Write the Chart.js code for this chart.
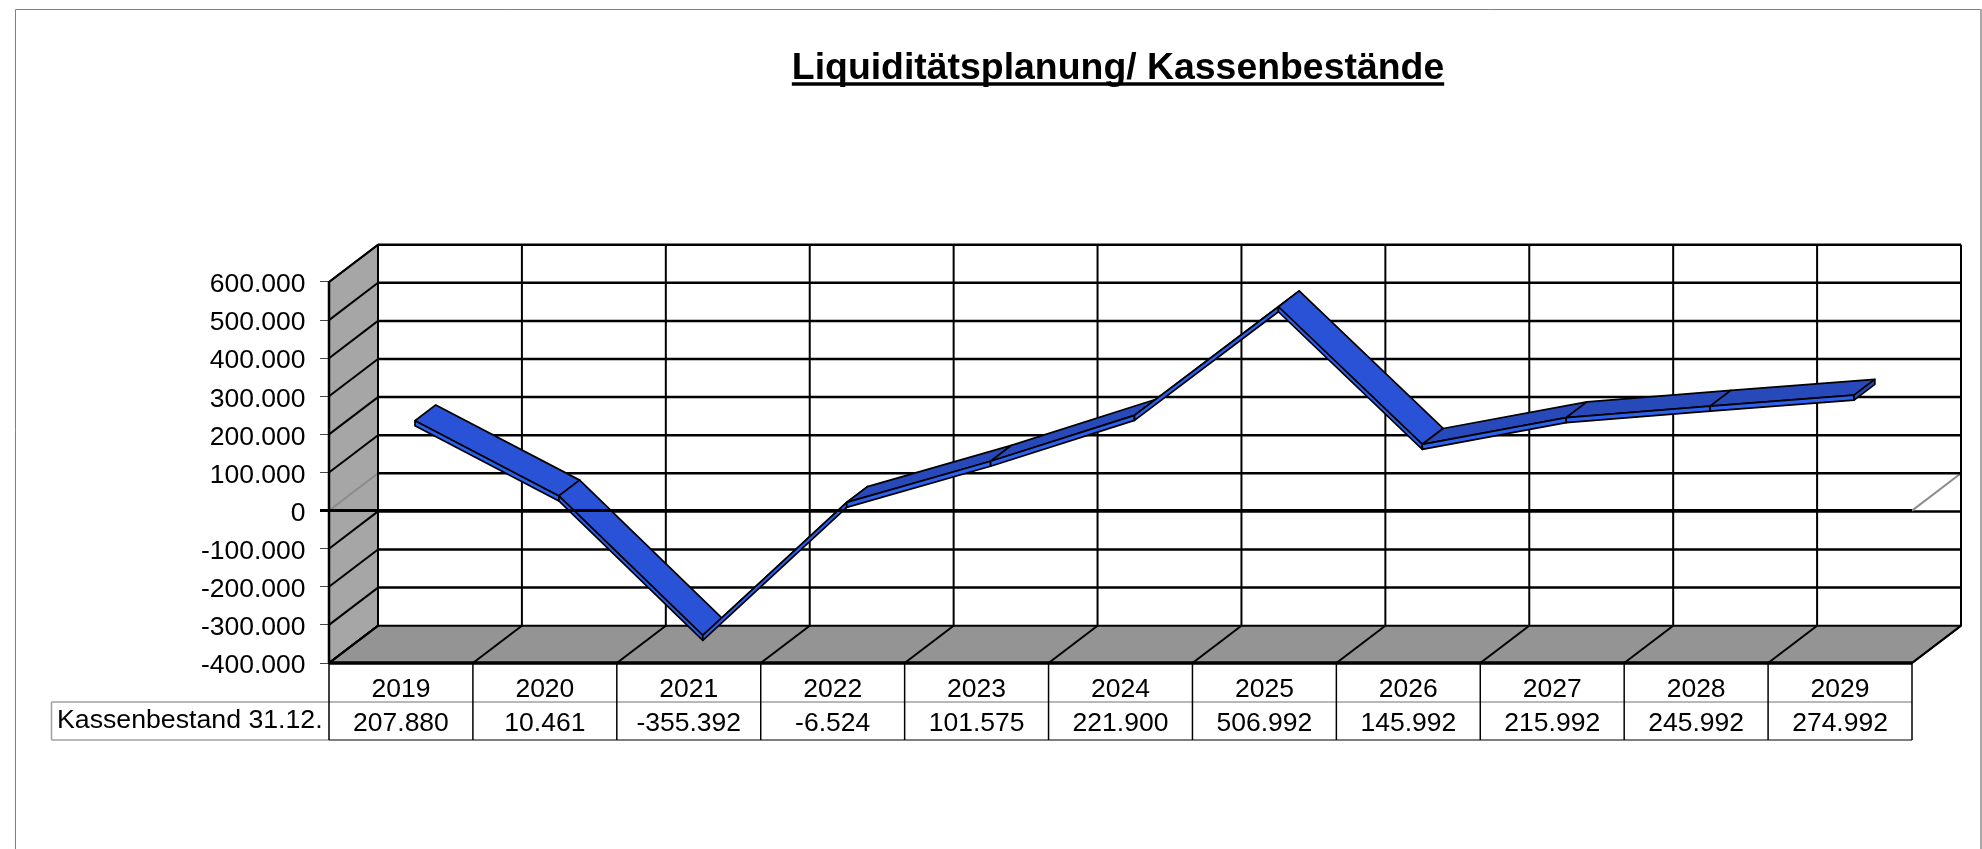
<!DOCTYPE html>
<html>
<head>
<meta charset="utf-8">
<title>Liquiditätsplanung</title>
<style>
    html, body { margin: 0; padding: 0; background: #fff; }
    canvas { display: block; }
</style>
<script src="https://cdn.jsdelivr.net/npm/chart.js@4"></script>
</head>
<body>
<canvas id="myChart" width="1982" height="849"></canvas>
<script>
const years = ['2019', '2020', '2021', '2022', '2023', '2024', '2025', '2026', '2027', '2028', '2029'];
const kassenbestand = [207880, 10461, -355392, -6524, 101575, 221900, 506992, 145992, 215992, 245992, 274992];
const seriesName = 'Kassenbestand 31.12.';
const chartTitle = 'Liquiditätsplanung/ Kassenbestände';

// 3d look of the old spreadsheet chart
const depthX = 49;
const depthY = -37.3;
const ribbonFront = 0.286;
const ribbonBack = 0.71;
const ribbonThick = 5;
const titleSize = 37.4;
const fontName = '"Liberation Sans", Arial, sans-serif';

function formatNumber(value) {
    const text = String(Math.abs(value)).replace(/\B(?=(\d{3})+$)/g, '.');
    return value < 0 ? '-' + text : text;
}

function line(ctx, x1, y1, x2, y2, color, width) {
    ctx.strokeStyle = color;
    ctx.lineWidth = width;
    ctx.beginPath();
    ctx.moveTo(x1, y1);
    ctx.lineTo(x2, y2);
    ctx.stroke();
}

function polygon(ctx, points, fill, stroke, width) {
    ctx.beginPath();
    points.forEach((p, i) => i ? ctx.lineTo(p[0], p[1]) : ctx.moveTo(p[0], p[1]));
    ctx.closePath();
    ctx.fillStyle = fill;
    ctx.fill();
    ctx.strokeStyle = stroke;
    ctx.lineWidth = width;
    ctx.lineJoin = 'round';
    ctx.stroke();
}

const walls3d = {
    id: 'walls3d',
    beforeDraw(chart) {
        // title sits a little left of the plot centre in the reference
        chart.titleBlock.left -= 5;
    },
    beforeDatasetsDraw(chart) {
        const ctx = chart.ctx;
        const area = chart.chartArea;
        const x = chart.scales.x;
        const y = chart.scales.y;
        const step = area.width / years.length;
        const backLeft = area.left + depthX;
        const backRight = area.right + depthX;

        ctx.save();
        // page frame
        ctx.strokeStyle = '#808080';
        ctx.lineWidth = 1;
        ctx.beginPath();
        ctx.moveTo(15.5, 849);
        ctx.lineTo(15.5, 9.5);
        ctx.lineTo(1981, 9.5);
        ctx.stroke();
        line(ctx, 1981, 9, 1981, 849, '#a8a8a8', 2);

        // left wall and floor
        polygon(ctx, [[area.left, area.top], [backLeft, area.top + depthY], [backLeft, area.bottom + depthY], [area.left, area.bottom]], '#a6a6a6', '#000', 2);
        polygon(ctx, [[area.left, area.bottom], [backLeft, area.bottom + depthY], [backRight, area.bottom + depthY], [area.right, area.bottom]], '#949494', '#000', 2);

        // back wall grid
        y.ticks.forEach(t => {
            const py = y.getPixelForValue(t.value);
            if (t.value !== 0) {
                line(ctx, area.left, py, backLeft, py + depthY, '#000', 2);
            } else {
                line(ctx, area.left, py, backLeft, py + depthY, '#8c8c8c', 2);
                line(ctx, area.right, py, backRight, py + depthY, '#8c8c8c', 2);
            }
            if (t.value > y.min) {
                line(ctx, backLeft, py + depthY, backRight, py + depthY, '#000', 2.5);
            }
        });
        for (let i = 0; i <= years.length; i++) {
            const px = x.getPixelForValue(i) - step / 2;
            line(ctx, px + depthX, area.top + depthY, px + depthX, area.bottom + depthY, '#000', 2);
            line(ctx, px, area.bottom, px + depthX, area.bottom + depthY, '#000', 2);
        }
        line(ctx, area.left, area.top, area.left, area.bottom, '#000', 2.5);
        ctx.restore();
    },
    afterDatasetsDraw(chart) {
        const ctx = chart.ctx;
        const area = chart.chartArea;
        const points = chart.getDatasetMeta(0).data;
        const x = chart.scales.x;
        const y = chart.scales.y;
        const step = area.width / years.length;
        const fx = ribbonFront * depthX, fy = ribbonFront * depthY;
        const bx = ribbonBack * depthX, by = ribbonBack * depthY;

        ctx.save();
        // ribbon, segment by segment. front strip last so it stays visible on steep rises
        for (let i = 0; i < points.length - 1; i++) {
            const a = points[i];
            const b = points[i + 1];
            const topColor = b.y > a.y ? '#2a52d6' : '#2849b9';
            polygon(ctx, [[a.x + fx, a.y + fy], [b.x + fx, b.y + fy], [b.x + bx, b.y + by], [a.x + bx, a.y + by]], topColor, '#000', 1.7);
            polygon(ctx, [[a.x + fx, a.y + fy + ribbonThick], [b.x + fx, b.y + fy + ribbonThick], [b.x + fx, b.y + fy], [a.x + fx, a.y + fy]], '#2d62f0', '#000', 1.7);
        }
        // end cap on the last year
        const last = points[points.length - 1];
        polygon(ctx, [[last.x + fx, last.y + fy], [last.x + bx, last.y + by], [last.x + bx, last.y + by + ribbonThick], [last.x + fx, last.y + fy + ribbonThick]], '#2849b9', '#000', 1.7);

        // zero line and floor edge sit in front of the ribbon
        line(ctx, area.left - 9, y.getPixelForValue(0), area.right, y.getPixelForValue(0), '#000', 3);
        line(ctx, area.left, area.bottom, area.right, area.bottom, '#000', 3.5);

        // data table under the chart
        const rowY = area.bottom + 39;
        const endY = area.bottom + 77;
        const tableLeft = 51.5;
        line(ctx, tableLeft, rowY, area.right, rowY, '#a0a0a0', 1.5);
        line(ctx, tableLeft, endY, area.left, endY, '#a0a0a0', 1.5);
        line(ctx, area.left, endY, area.right, endY, '#555', 1.5);
        line(ctx, tableLeft, rowY, tableLeft, endY, '#a0a0a0', 1.5);
        for (let i = 0; i <= years.length; i++) {
            const px = x.getPixelForValue(i) - step / 2;
            line(ctx, px, area.bottom, px, endY, '#000', 1.5);
        }
        ctx.fillStyle = '#000';
        ctx.font = '26.7px ' + fontName;
        ctx.textAlign = 'left';
        ctx.textBaseline = 'middle';
        ctx.fillText(seriesName, 57, rowY + 19);

        // title underline
        const title = chart.titleBlock;
        ctx.font = 'bold ' + titleSize + 'px ' + fontName;
        const w = ctx.measureText(chartTitle).width;
        const cx = (title.left + title.right) / 2;
        line(ctx, cx - w / 2, 84, cx + w / 2, 84, '#000', 3.5);
        ctx.restore();
    }
};

const data = {
    labels: years.map((year, i) => [year, formatNumber(kassenbestand[i])]),
    datasets: [{
        label: seriesName,
        data: kassenbestand,
        showLine: false,
        pointRadius: 0
    }]
};

const config = {
    type: 'line',
    data,
    options: {
        responsive: false,
        animation: false,
        layout: { padding: { left: 0, right: 70, top: 0, bottom: 0 } },
        plugins: {
            legend: { display: false },
            tooltip: { enabled: false },
            title: {
                display: true,
                text: chartTitle,
                fullSize: false,
                color: '#000',
                font: { family: fontName, size: titleSize, weight: 'bold', lineHeight: 1.2 },
                padding: { top: 46, bottom: 191.1 }
            }
        },
        scales: {
            x: {
                offset: true,
                border: { display: false },
                grid: { display: false },
                afterFit(scale) { scale.height = 186; },
                ticks: {
                    autoSkip: false,
                    maxRotation: 0,
                    color: '#000',
                    padding: 2,
                    font: { family: fontName, size: 26.5, lineHeight: '34px' }
                }
            },
            y: {
                min: -400000,
                max: 600000,
                border: { display: false },
                grid: { drawOnChartArea: false, color: '#444', tickLength: 9 },
                afterFit(scale) { scale.width = 329; },
                ticks: {
                    stepSize: 100000,
                    color: '#000',
                    padding: 14.5,
                    labelOffset: 3,
                    font: { family: fontName, size: 26.5 },
                    callback: value => formatNumber(value)
                }
            }
        }
    },
    plugins: [walls3d]
};

const myChart = new Chart(
    document.getElementById('myChart'),
    config
);
</script>
</body>
</html>
